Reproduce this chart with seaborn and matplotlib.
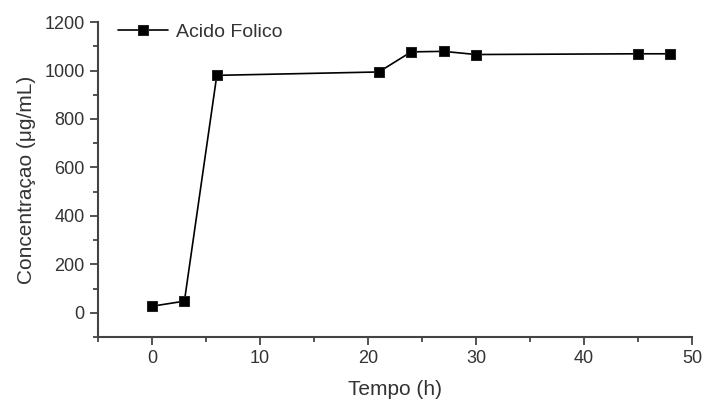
import matplotlib
matplotlib.use("Agg")
import matplotlib.pyplot as plt
import seaborn as sns
import pandas as pd
from matplotlib.ticker import MultipleLocator

# --- Dados ---
tempo_h = [0, 3, 6, 21, 24, 27, 30, 45, 48]
concentracao = [27, 48, 980, 994, 1077, 1079, 1066, 1069, 1069]
serie = "Acido Folico"

df = pd.DataFrame({"tempo": tempo_h, "conc": concentracao, "serie": serie})

sns.set_style("ticks")
plt.rcParams["font.family"] = ["Liberation Sans", "DejaVu Sans"]
cor_texto = "#333333"

fig = plt.figure(figsize=(7.02, 4.01), dpi=100)
ax = fig.add_axes([0.1396, 0.1596, 0.8462, 0.7854])

sns.lineplot(data=df, x="tempo", y="conc", hue="serie", palette=["black"],
             marker="s", markersize=7, markeredgecolor="#222222",
             linewidth=1.2, ax=ax)

ax.set_xlim(-5, 50)
ax.set_ylim(-100, 1200)
ax.xaxis.set_major_locator(MultipleLocator(10))
ax.xaxis.set_minor_locator(MultipleLocator(5))
ax.yaxis.set_major_locator(MultipleLocator(200))
ax.yaxis.set_minor_locator(MultipleLocator(100))

ax.tick_params(which="major", length=6, width=1.3, labelsize=13,
               colors="#444444", labelcolor=cor_texto)
ax.tick_params(which="minor", length=3.5, width=1.3, colors="#444444")

for lado in ["top", "right"]:
    ax.spines[lado].set_visible(False)
for lado in ["left", "bottom"]:
    ax.spines[lado].set_linewidth(1.5)
    ax.spines[lado].set_color("#444444")

ax.set_xlabel("Tempo (h)", fontsize=15, color=cor_texto, labelpad=9)
ax.set_ylabel("Concentraçao (μg/mL)", fontsize=15, color=cor_texto, labelpad=6)

leg = ax.legend(loc="upper left", frameon=False, fontsize=14,
                handlelength=2.6, handletextpad=0.4, borderaxespad=0.0,
                bbox_to_anchor=(0.02, 1.02))
for t in leg.get_texts():
    t.set_color(cor_texto)

fig.savefig("out.png", dpi=100)
